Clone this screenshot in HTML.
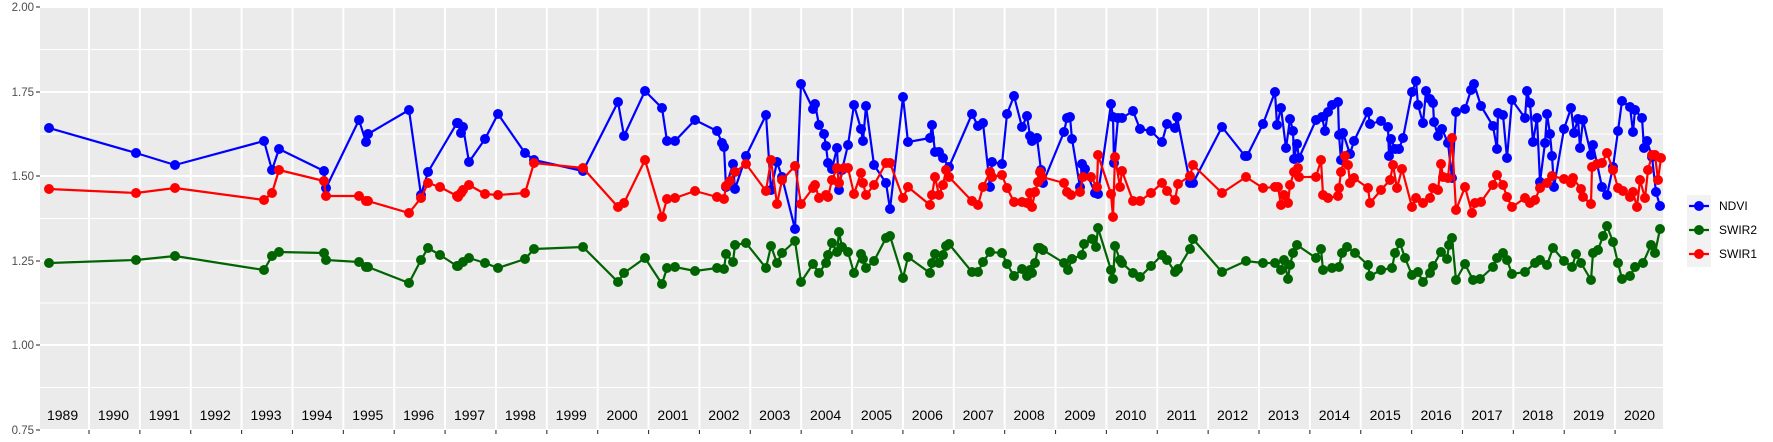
<!DOCTYPE html>
<html><head><meta charset="utf-8"><style>html,body{margin:0;padding:0;background:#fff}svg{display:block}</style></head><body>
<svg width="1773" height="442" viewBox="0 0 1773 442" xmlns="http://www.w3.org/2000/svg" font-family="Liberation Sans, sans-serif">
<rect x="40" y="7" width="1623" height="423" fill="#ebebeb"/>
<g stroke="#fff" stroke-width="1">
<line x1="40" x2="1663" y1="49.5" y2="49.5"/><line x1="40" x2="1663" y1="134" y2="134"/><line x1="40" x2="1663" y1="218.5" y2="218.5"/><line x1="40" x2="1663" y1="303" y2="303"/><line x1="40" x2="1663" y1="387.5" y2="387.5"/>
</g>
<g stroke="#fff" stroke-width="2">
<line x1="40" x2="1663" y1="7" y2="7"/><line x1="40" x2="1663" y1="92" y2="92"/><line x1="40" x2="1663" y1="176" y2="176"/><line x1="40" x2="1663" y1="261" y2="261"/><line x1="40" x2="1663" y1="345" y2="345"/><line x1="40" x2="1663" y1="430" y2="430"/>
</g>
<g id="vg" stroke="#fff" stroke-width="2"></g>
<g id="series"></g>
<g id="yrs" font-size="14" fill="#000" text-anchor="middle"></g>
<g font-size="11.5" fill="#4d4d4d" text-anchor="end">
<text x="34" y="11">2.00</text><text x="34" y="96">1.75</text><text x="34" y="180">1.50</text><text x="34" y="265">1.25</text><text x="34" y="349">1.00</text><text x="34" y="434">0.75</text>
</g>
<g stroke="#333" stroke-width="1.1">
<line x1="36" x2="40" y1="7" y2="7"/><line x1="36" x2="40" y1="92" y2="92"/><line x1="36" x2="40" y1="176" y2="176"/><line x1="36" x2="40" y1="261" y2="261"/><line x1="36" x2="40" y1="345" y2="345"/><line x1="36" x2="40" y1="430" y2="430"/>
</g>
<g id="xt" stroke="#333" stroke-width="1.1"></g>
<rect x="1687" y="195" width="24" height="72" fill="#f2f2f2"/>
<g stroke-width="2.2"><line x1="1689" x2="1709" y1="206" y2="206" stroke="#0000ff"/><line x1="1689" x2="1709" y1="230" y2="230" stroke="#006400"/><line x1="1689" x2="1709" y1="254" y2="254" stroke="#ff0000"/></g>
<circle cx="1699" cy="206" r="5" fill="#0000ff"/><circle cx="1699" cy="230" r="5" fill="#006400"/><circle cx="1699" cy="254" r="5" fill="#ff0000"/>
<g font-size="12" fill="#000"><text x="1719" y="210">NDVI</text><text x="1719" y="234">SWIR2</text><text x="1719" y="258">SWIR1</text></g>
</svg>
<script>
var NS="http://www.w3.org/2000/svg";
function el(t,a,p){var e=document.createElementNS(NS,t);for(var k in a)e.setAttribute(k,a[k]);p.appendChild(e);return e;}
var vg=document.getElementById('vg'),xt=document.getElementById('xt'),yrs=document.getElementById('yrs');
for(var i=0;i<=30;i++){var x=89+i*50.87;el('line',{x1:x,x2:x,y1:7,y2:430},vg);el('line',{x1:x,x2:x,y1:430,y2:434},xt);}
for(var y=1989;y<=2020;y++){var t=el('text',{x:89+(y-1990+0.5)*50.87-1,y:420},yrs);t.textContent=y;}
var N=[[49,128],[136,153],[175,165],[264,141],[272,170],[279,149],[324,171],[326,188],[359,120],[366,142],[368,134],[409,110],[421,195],[428,172],[457,123],[458,123],[463,127],[461,133],[469,162],[485,139],[498,114],[525,153],[534,160],[583,171],[618,102],[624,136],[645,91],[662,108],[667,141],[675,141],[695,120],[717,131],[722,143],[724,147],[726,187],[733,164],[735,189],[746,156],[766,115],[771,190],[777,162],[782,177],[795,229],[801,84],[813,109],[815,104],[819,125],[824,134],[826,146],[828,163],[832,169],[837,148],[839,190],[842,170],[848,145],[854,105],[861,129],[863,141],[866,106],[874,165],[886,183],[890,209],[903,97],[908,142],[930,138],[932,125],[935,152],[939,152],[943,158],[949,167],[972,114],[978,126],[983,123],[990,187],[992,162],[1002,164],[1007,114],[1014,96],[1022,127],[1027,116],[1030,136],[1032,141],[1037,138],[1041,170],[1043,183],[1064,132],[1067,118],[1070,117],[1072,139],[1082,164],[1085,169],[1080,187],[1095,193],[1098,194],[1111,104],[1113,117],[1114,163],[1118,118],[1122,118],[1133,111],[1140,129],[1151,131],[1162,142],[1167,124],[1175,128],[1177,117],[1190,183],[1193,183],[1222,127],[1245,156],[1247,156],[1263,124],[1275,92],[1277,125],[1281,108],[1286,148],[1290,119],[1293,131],[1297,144],[1294,159],[1299,158],[1316,120],[1322,117],[1325,131],[1328,112],[1332,105],[1338,102],[1339,135],[1343,133],[1341,160],[1350,154],[1354,141],[1368,112],[1370,124],[1381,121],[1388,127],[1391,139],[1389,156],[1395,149],[1399,149],[1403,138],[1412,92],[1416,81],[1418,105],[1423,123],[1426,91],[1430,99],[1433,103],[1434,122],[1438,136],[1442,129],[1448,143],[1452,178],[1456,112],[1465,109],[1471,90],[1474,84],[1481,106],[1493,126],[1497,149],[1498,113],[1503,115],[1507,158],[1512,100],[1525,118],[1527,91],[1530,103],[1533,142],[1537,118],[1540,182],[1545,143],[1547,114],[1550,134],[1552,156],[1554,187],[1564,129],[1571,108],[1574,133],[1578,119],[1580,148],[1583,120],[1591,155],[1593,145],[1602,187],[1607,195],[1613,167],[1618,131],[1622,101],[1630,107],[1633,132],[1635,110],[1642,118],[1644,148],[1647,141],[1652,157],[1656,192],[1660,206]];
var S1=[[49,189],[136,193],[175,188],[264,200],[272,193],[279,170],[324,181],[326,196],[359,196],[366,201],[368,201],[409,213],[421,198],[428,183],[440,187],[457,196],[458,197],[461,193],[463,190],[469,185],[485,194],[498,195],[525,193],[534,163],[583,168],[618,207],[624,203],[645,160],[662,217],[667,199],[675,198],[695,191],[717,197],[724,199],[726,186],[730,181],[735,172],[746,164],[766,191],[771,160],[777,204],[782,180],[795,166],[801,204],[813,188],[815,185],[819,198],[826,195],[828,197],[832,180],[837,168],[839,183],[844,168],[848,168],[854,194],[861,173],[863,183],[866,195],[874,185],[886,163],[890,163],[903,198],[908,187],[930,205],[932,195],[935,177],[939,195],[943,185],[946,170],[949,177],[972,201],[978,205],[983,187],[990,172],[992,177],[1002,175],[1007,188],[1014,202],[1022,202],[1027,203],[1030,193],[1032,207],[1035,192],[1038,182],[1040,172],[1042,177],[1064,183],[1067,192],[1071,195],[1080,192],[1083,177],[1091,177],[1097,187],[1098,155],[1111,194],[1113,217],[1115,157],[1120,187],[1122,171],[1133,201],[1140,201],[1151,193],[1162,183],[1167,191],[1175,200],[1178,184],[1190,176],[1193,165],[1222,193],[1246,177],[1263,188],[1275,187],[1278,187],[1281,205],[1284,195],[1288,203],[1290,185],[1294,172],[1298,168],[1299,177],[1316,177],[1321,160],[1323,195],[1328,198],[1338,196],[1339,188],[1341,172],[1345,156],[1348,165],[1350,183],[1354,178],[1368,188],[1370,203],[1381,190],[1390,180],[1393,165],[1397,188],[1402,169],[1412,207],[1416,198],[1423,203],[1430,198],[1433,188],[1438,190],[1441,164],[1443,177],[1448,178],[1452,138],[1456,210],[1465,187],[1472,213],[1475,203],[1481,202],[1493,185],[1497,175],[1503,185],[1507,197],[1512,207],[1525,198],[1530,203],[1535,200],[1540,188],[1547,183],[1552,176],[1564,179],[1571,183],[1573,178],[1581,189],[1583,197],[1591,204],[1592,167],[1597,164],[1602,163],[1607,153],[1613,170],[1618,188],[1623,191],[1630,197],[1633,192],[1637,207],[1640,180],[1645,198],[1648,170],[1652,155],[1655,155],[1658,180],[1661,158]];
var S2=[[49,263],[136,260],[175,256],[264,270],[272,256],[279,252],[324,253],[326,260],[359,262],[366,267],[368,267],[409,283],[421,260],[428,248],[440,255],[457,266],[458,266],[463,262],[469,258],[485,263],[498,268],[525,259],[534,249],[583,247],[618,282],[624,273],[645,258],[662,284],[667,268],[675,267],[695,271],[717,268],[724,269],[726,254],[733,262],[735,245],[746,243],[766,268],[771,246],[777,263],[782,253],[795,241],[801,282],[813,264],[819,273],[826,263],[828,255],[832,243],[837,252],[839,232],[842,247],[848,252],[854,273],[861,254],[863,259],[866,268],[874,261],[886,238],[890,236],[903,278],[908,257],[930,273],[932,263],[935,254],[939,263],[943,255],[946,246],[949,244],[972,272],[978,272],[983,262],[990,252],[1002,253],[1007,264],[1014,276],[1022,269],[1027,276],[1030,270],[1032,273],[1035,263],[1038,248],[1040,248],[1043,250],[1064,263],[1068,270],[1072,259],[1082,255],[1084,244],[1092,239],[1098,228],[1096,247],[1111,270],[1113,279],[1115,246],[1120,260],[1122,263],[1133,273],[1140,277],[1151,266],[1162,255],[1167,260],[1175,272],[1178,269],[1190,249],[1193,239],[1222,272],[1246,261],[1263,263],[1275,263],[1281,270],[1284,260],[1288,279],[1290,265],[1293,253],[1297,245],[1316,258],[1321,249],[1323,270],[1332,268],[1339,267],[1342,253],[1347,247],[1355,253],[1368,265],[1370,276],[1381,270],[1392,268],[1395,253],[1400,243],[1405,258],[1412,275],[1418,272],[1423,282],[1430,273],[1433,266],[1441,252],[1447,259],[1449,245],[1452,238],[1456,280],[1465,264],[1473,280],[1480,279],[1493,267],[1497,258],[1503,253],[1507,260],[1512,274],[1525,272],[1535,263],[1540,260],[1547,265],[1553,248],[1564,261],[1572,267],[1576,254],[1581,263],[1591,280],[1593,253],[1598,250],[1603,236],[1607,226],[1613,242],[1618,263],[1622,279],[1630,276],[1635,267],[1643,263],[1651,245],[1655,253],[1660,229]];
var g=document.getElementById('series');
[[N,'#0000ff'],[S2,'#006400'],[S1,'#ff0000']].forEach(function(s){
 var pts=s[0].slice().sort(function(a,b){return a[0]-b[0];});
 el('polyline',{points:pts.map(function(p){return p.join(',');}).join(' '),fill:'none',stroke:s[1],'stroke-width':2.2,'stroke-linejoin':'round'},g);
 pts.forEach(function(p){el('circle',{cx:p[0],cy:p[1],r:5,fill:s[1]},g);});
});
</script>
</body></html>
